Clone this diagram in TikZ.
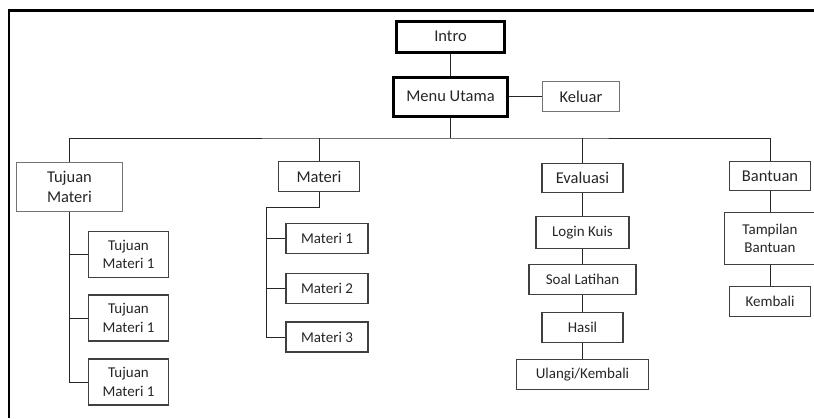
\documentclass[tikz,border=0pt]{standalone}
\usepackage{fontspec}
\setmainfont{Carlito}
\usepackage{tikz}
\usetikzlibrary{calc,positioning}

\begin{document}
\begin{tikzpicture}[x=1pt, y=-1pt,
  box/.style={draw=black!75, line width=1.1pt, align=center, inner sep=0pt, text=black!85},
  tebal/.style={box, draw=black, line width=3pt},
  atas/.style={font=\fontsize{16.5}{20}\selectfont},
  anak/.style={font=\fontsize{15}{18.5}\selectfont},
  garis/.style={draw=black!85, line width=1pt}]

\useasboundingbox (0,0) rectangle (814,418);
% bingkai
\draw[line width=2.6pt] (9,418) -- (9,10.5) -- (820,10.5);

\node[tebal, atas, minimum width=108pt, minimum height=31pt] (intro) at (450.5,36.5) {Intro};
\node[tebal, atas, minimum width=114pt, minimum height=39pt] (menu) at (450.5,96.5) {Menu Utama};
\node[box, atas, draw=black!55, minimum width=77pt, minimum height=30pt] (keluar) at (581,96.5) {Keluar};

\node[box, atas, draw=black!55, minimum width=106pt, minimum height=49pt] (tm) at (69.5,187) {Tujuan\\Materi};
\node[box, atas, minimum width=81pt, minimum height=30pt] (materi) at (319,176.5) {Materi};
\node[box, atas, minimum width=81pt, minimum height=29pt] (evaluasi) at (582.5,178) {Evaluasi};
\node[box, atas, minimum width=81pt, minimum height=29pt] (bantuan) at (770,176) {Bantuan};

% anak Tujuan Materi
\node[box, anak, minimum width=80pt, minimum height=46pt] (tm1) at (128.5,254.5) {Tujuan\\Materi 1};
\node[box, anak, minimum width=80pt, minimum height=46pt] (tm2) at (128.5,318) {Tujuan\\Materi 1};
\node[box, anak, minimum width=80pt, minimum height=46pt] (tm3) at (128.5,382) {Tujuan\\Materi 1};

% anak Materi
\node[box, anak, minimum width=82pt, minimum height=30pt] (m1) at (327,238.5) {Materi 1};
\node[box, anak, minimum width=82pt, minimum height=30pt] (m2) at (327,288.5) {Materi 2};
\node[box, anak, minimum width=82pt, minimum height=30pt] (m3) at (327,337) {Materi 3};

% anak Evaluasi
\node[box, anak, minimum width=93pt, minimum height=32pt] (login) at (582.5,232.5) {Login Kuis};
\node[box, anak, minimum width=107pt, minimum height=30pt] (soal) at (582.5,279.5) {Soal Latihan};
\node[box, anak, minimum width=81pt, minimum height=30pt] (hasil) at (582.5,327.5) {Hasil};
\node[box, anak, minimum width=132pt, minimum height=30pt] (ulangi) at (582.5,374.5) {Ulangi/Kembali};

% anak Bantuan
\node[box, anak, minimum width=91pt, minimum height=52pt] (tampil) at (770,238.5) {Tampilan\\Bantuan};
\node[box, anak, minimum width=81pt, minimum height=30pt] (kembali) at (770,301.5) {Kembali};

\coordinate (bus) at (450.5,138);
\coordinate (mbelok) at (266,207);

% Intro -> Menu Utama -> Keluar
\draw[garis] (intro) -- (menu);
\draw[garis] (menu) -- (keluar);
% Menu Utama ke menu-menu
\draw[garis] (menu) -- (bus);
\draw[garis] (tm.north) |- (bus) -| (bantuan.north);
\draw[garis] (materi.north) -- (materi.north |- bus);
\draw[garis] (evaluasi.north) -- (evaluasi.north |- bus);
% Tujuan Materi
\draw[garis] (tm.south) |- (tm1.west);
\draw[garis] (tm.south) |- (tm2.west);
\draw[garis] (tm.south) |- (tm3.west);
% Materi
\draw[garis] (materi.south) |- (mbelok) |- (m1.west);
\draw[garis] (mbelok) |- (m2.west);
\draw[garis] (mbelok) |- (m3.west);
% Evaluasi
\draw[garis] (evaluasi) -- (login) -- (soal) -- (hasil) -- (ulangi);
% Bantuan
\draw[garis] (bantuan) -- (tampil) -- (kembali);

\end{tikzpicture}
\end{document}
